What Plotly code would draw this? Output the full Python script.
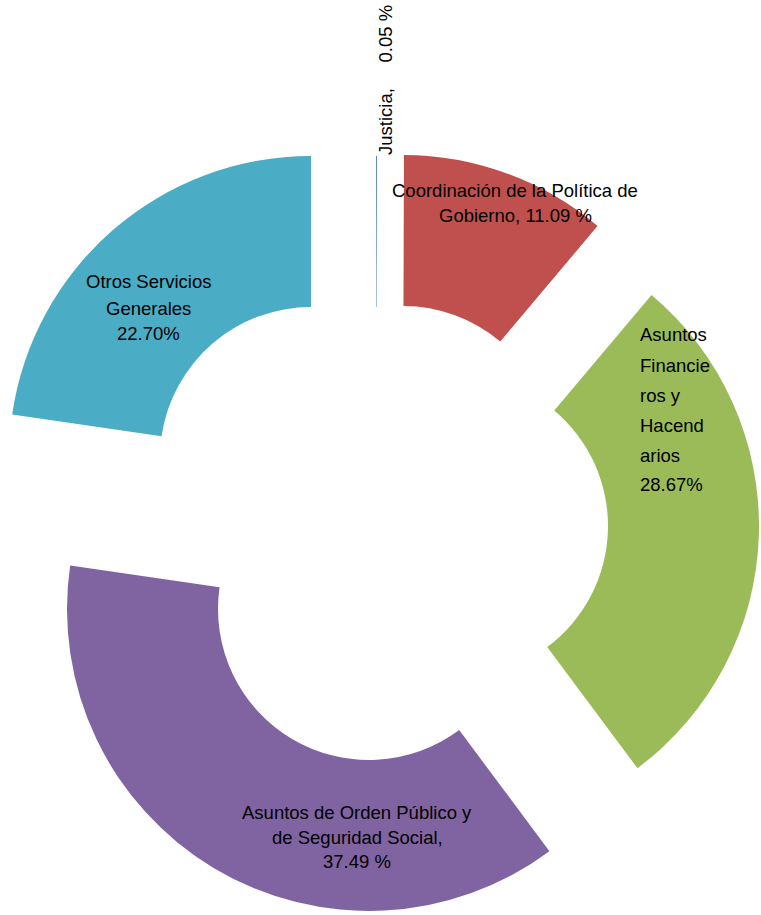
import plotly.graph_objects as go

W, H = 761, 915

categories = [
    "Justicia",
    "Coordinación de la Política de Gobierno",
    "Asuntos Financieros y Hacendarios",
    "Asuntos de Orden Público y de Seguridad Social",
    "Otros Servicios Generales",
]
values = [0.05, 11.09, 28.67, 37.49, 22.70]
colors = ["#4F81BD", "#C0504D", "#9BBB59", "#8064A2", "#4BACC6"]

# exploded position (apex of each slice, pixels from top-left) and outer radius
apex = [(376, 458), (403, 457), (457, 526), (369, 609), (311, 458)]
R = 302
HOLE = 0.5

label_lines = [
    ["Justicia,\u00a0\u00a0\u00a0\u00a0\u00a00.05 %"],
    ["Coordinación de la Política de", "Gobierno, 11.09 %"],
    ["Asuntos", "Financie", "ros y", "Hacend", "arios", "28.67%"],
    ["Asuntos de Orden Público y", "de Seguridad Social,", "37.49 %"],
    ["Otros Servicios", "Generales", "22.70%"],
]
label_x = [386, 515, 638, 357, 148]
label_y = [[80], [190, 215], [335, 365, 395, 425, 455, 484], [812, 837, 861], [282, 308, 333]]
label_anchor = ["center", "center", "left", "center", "center"]
label_angle = [-90, 0, 0, 0, 0]

FONT = "Liberation Sans"
FSIZE = 18.5

fig = go.Figure()
for i, (ax, ay) in enumerate(apex):
    slice_colors = [colors[j] if j == i else "rgba(0,0,0,0)" for j in range(len(values))]
    fig.add_trace(
        go.Pie(
            labels=categories,
            values=values,
            sort=False,
            direction="clockwise",
            rotation=0,
            hole=HOLE,
            marker=dict(colors=slice_colors, line=dict(width=0)),
            textinfo="none",
            hoverinfo="label+percent",
            domain=dict(
                x=[max(0, (ax - R) / W), min(1, (ax + R) / W)],
                y=[max(0, 1 - (ay + R) / H), min(1, 1 - (ay - R) / H)],
            ),
            showlegend=False,
        )
    )

annotations = []
for lines, px, pys, xa, ang in zip(label_lines, label_x, label_y, label_anchor, label_angle):
    for txt, py in zip(lines, pys):
        annotations.append(
            dict(
                text=txt,
                x=px / W,
                y=1 - py / H,
                xref="paper",
                yref="paper",
                showarrow=False,
                xanchor=xa,
                yanchor="middle",
                textangle=ang,
                font=dict(family=FONT, size=FSIZE, color="#000000"),
            )
        )

fig.update_layout(
    width=W,
    height=H,
    margin=dict(l=0, r=0, t=0, b=0),
    paper_bgcolor="white",
    plot_bgcolor="white",
    annotations=annotations,
    font=dict(family=FONT),
)

fig.write_html(
    "out.html",
    config={"displayModeBar": False},
    post_script="document.body.style.margin='0px';",
)
